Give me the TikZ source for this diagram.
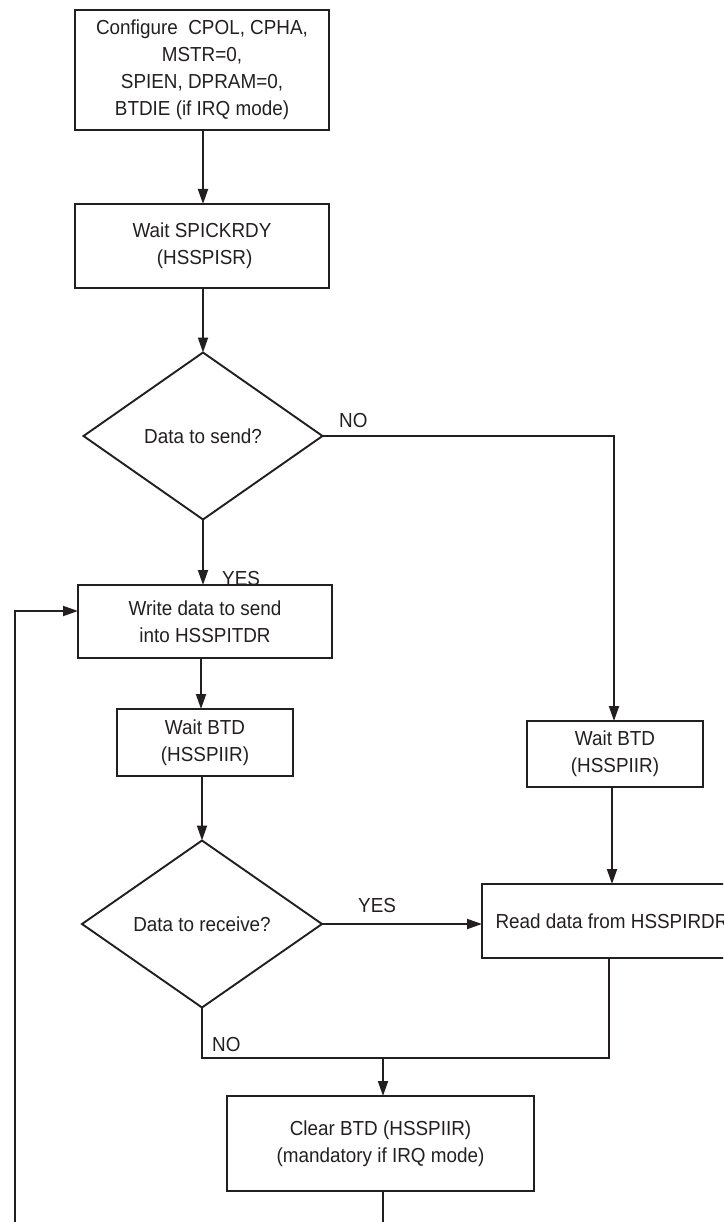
\documentclass[tikz,border=0pt]{standalone}
\usepackage{fontspec}
\setmainfont{Liberation Sans}[FakeStretch=0.93]
\usetikzlibrary{shapes.geometric,arrows.meta}
\definecolor{ink}{HTML}{231F20}
\tikzset{
  box/.style={draw=ink, line width=1.9pt, rectangle, inner sep=0pt, outer sep=0pt, align=center, text=ink},
  dia/.style={draw=ink, line width=1.9pt, diamond, inner sep=0pt, outer sep=0pt, align=center, text=ink},
  conn/.style={draw=ink, line width=1.9pt},
  arr/.style={conn, -{Triangle[length=15pt,width=10pt]}},
  lbl/.style={text=ink, inner sep=0pt, anchor=base west}
}
\begin{document}
\begin{tikzpicture}[x=1pt, y=-1pt, font=\fontsize{20.3}{27}\selectfont]
\useasboundingbox (0,0) rectangle (723,1222);
\clip (0,0) rectangle (723,1222);
% boxes
\node[box, minimum width=254pt, minimum height=120pt] (b1) at (202,70)
  {Configure\ \ CPOL, CPHA,\\MSTR=0,\\SPIEN, DPRAM=0,\\BTDIE (if IRQ mode)};
\node[box, minimum width=254pt, minimum height=84pt] (b2) at (202,246)
  {Wait SPICKRDY\\\ (HSSPISR)};
\node[dia, minimum width=239pt, minimum height=167pt] (d1) at (203,436)
  {Data to send?};
\node[box, minimum width=254pt, minimum height=73pt] (b3) at (205,621.5)
  {Write data to send\\into HSSPITDR};
\node[box, minimum width=176pt, minimum height=67pt] (b4) at (205,742.5)
  {Wait BTD\\(HSSPIIR)};
\node[dia, minimum width=240pt, minimum height=167pt] (d2) at (202,924)
  {Data to receive?};
\node[box, minimum width=176pt, minimum height=66pt] (b5) at (615,754)
  {Wait BTD\\(HSSPIIR)};
\node[box, minimum width=260pt, minimum height=74pt] (b6) at (612,921)
  {Read data from HSSPIRDR};
\node[box, minimum width=307pt, minimum height=95pt] (b7) at (380.5,1143.5)
  {Clear BTD (HSSPIIR)\\(mandatory if IRQ mode)};
% helper coordinates
\coordinate (merge) at (383,1058);
\coordinate (loopbot) at (15,1222);
\coordinate (clearbot) at (383,1222);
% connectors
\draw[arr] (b1.south -| 203,0) -- (b2.north -| 203,0);
\draw[arr] (b2.south -| d1.north) -- (d1.north);
\draw[arr] (d1.south) -- (d1.south |- b3.north);
\draw[arr] (d1.east) -| (b5.north -| 614,0);
\draw[arr] (b3.south -| 201,0) -- (b4.north -| 201,0);
\draw[arr] (b4.south -| d2.north) -- (d2.north);
\draw[arr] (d2.east) -- (d2.east -| b6.west);
\draw[arr] (b5.south -| 612,0) -- (b6.north -| 612,0);
\draw[conn] (d2.south) |- (merge);
\draw[conn] (b6.south -| 609,0) |- (merge);
\draw[arr] (merge) -- (merge |- b7.north);
\draw[conn] (b7.south -| clearbot) -- (clearbot);
\draw[arr] (loopbot) |- ([yshift=10.5pt]b3.west);
% labels
\node[lbl] (lno1) at (339,427) {NO};
\node[lbl] (lyes1) at (222,585) {YES};
\node[lbl] (lyes2) at (358,912) {YES};
\node[lbl] (lno2) at (212,1051) {NO};
\end{tikzpicture}
\end{document}
